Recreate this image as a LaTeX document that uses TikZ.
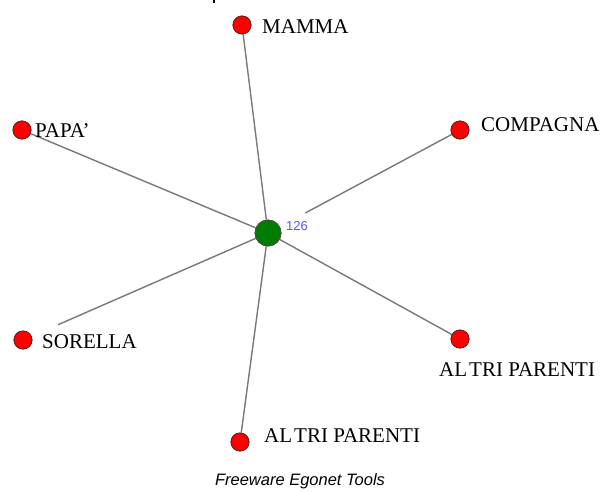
\documentclass[tikz,border=0pt]{standalone}
\usepackage{fontspec}
\setmainfont{Liberation Serif}
\newfontfamily\capfont{Liberation Sans}
\definecolor{edgegray}{RGB}{120,120,120}
\definecolor{nodered}{RGB}{255,0,0}
\definecolor{nodeborder}{RGB}{110,30,30}
\definecolor{egogreen}{RGB}{0,125,0}
\definecolor{labelblue}{RGB}{85,85,255}
\begin{document}
\begin{tikzpicture}[x=1pt,y=-1pt,
  alter/.style={circle,fill=nodered,draw=nodeborder,line width=0.8pt,minimum size=18pt,inner sep=0pt},
  ego/.style={circle,fill=egogreen,draw=black!70,line width=0.8pt,minimum size=26pt,inner sep=0pt},
  tie/.style={draw=edgegray,line width=1.4pt},
  lab/.style={font=\fontsize{21}{23}\selectfont,inner sep=0pt,anchor=west,text=black},
  numlab/.style={font=\capfont\fontsize{13}{14}\selectfont,text=labelblue,inner sep=0pt,anchor=west}]
\useasboundingbox (0,0) rectangle (602,491);
\fill[black] (212.5,0) rectangle (215,3);
\node[ego] (c) at (268,233) {};
\node[alter] (mamma) at (242,25) {};
\node[alter] (papa) at (22,130) {};
\node[alter] (comp) at (460,130) {};
\node[alter] (sor) at (23,340) {};
\node[alter] (altr1) at (460,339) {};
\node[alter] (altr2) at (240,442) {};
\draw[tie] (c) -- (mamma);
\draw[tie] (c) -- (papa);
\draw[tie,shorten <=29pt] (c) -- (comp);
\draw[tie,shorten >=29pt] (c) -- (sor);
\draw[tie] (c) -- (altr1);
\draw[tie] (c) -- (altr2);
\node[ego] at (c) {};
\foreach \n in {mamma,papa,comp,sor,altr1,altr2} {\node[alter] at (\n) {};}
\node[numlab] (n126) at (286,226) {126};
\node[lab] (lmamma) at (262,27) {MAMMA};
\node[lab] (lpapa) at (35,131) {PAPA'};
\node[lab] (lcomp) at (481,125) {COMPAGNA};
\node[lab] (lsor) at (42,342) {SORELLA};
\node[lab] (laltr1) at (439,370) {AL\kern2pt TRI PARENTI};
\node[lab] (laltr2) at (264,436) {AL\kern2pt TRI PARENTI};
\node[font=\capfont\itshape\fontsize{16.5}{18}\selectfont,inner sep=0pt] (cap) at (300,481) {Freeware Egonet Tools};
\end{tikzpicture}
\end{document}
